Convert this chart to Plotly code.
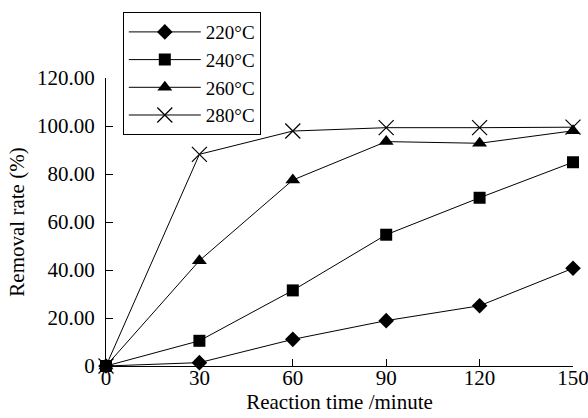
import plotly.graph_objects as go

times = [0, 30, 60, 90, 120, 150]
series_names = ["220°C", "240°C", "260°C", "280°C"]
rate_220 = [0, 1.4, 11.1, 18.9, 25.1, 40.7]
rate_240 = [0, 10.5, 31.5, 54.7, 70.1, 84.9]
rate_260 = [0, 43.9, 77.5, 93.5, 92.8, 98.0]
rate_280 = [0, 88.2, 97.9, 99.3, 99.3, 99.5]
y_tick_vals = [0, 20, 40, 60, 80, 100, 120]
y_tick_text = ["0", "20.00", "40.00", "60.00", "80.00", "100.00", "120.00"]
x_tick_vals = [0, 30, 60, 90, 120, 150]

symbols = ["diamond", "square", "triangle-up", "x-thin"]
sizes = [12, 12, 13, 15]
all_rates = [rate_220, rate_240, rate_260, rate_280]

fig = go.Figure()
for name, vals, sym, sz in zip(series_names, all_rates, symbols, sizes):
    marker = dict(symbol=sym, size=sz, color="black")
    if sym == "x-thin":
        marker["line"] = dict(color="black", width=1.2)
    fig.add_trace(go.Scatter(x=times, y=vals, name=name, mode="lines+markers",
                             line=dict(color="black", width=1), marker=marker,
                             cliponaxis=False))

font_family = "Liberation Serif, Times New Roman, serif"
fig.update_layout(
    width=588, height=418,
    margin=dict(l=106, r=15, t=78, b=52, autoexpand=False),
    paper_bgcolor="white", plot_bgcolor="white",
    font=dict(family=font_family, size=21, color="black"),
    showlegend=True,
    legend=dict(x=0.036, y=1.229, xanchor="left", yanchor="top",
                bordercolor="black", borderwidth=1, bgcolor="white",
                font=dict(size=19), itemwidth=72, tracegroupgap=0),
    xaxis=dict(range=[0, 150], tickvals=x_tick_vals, ticks="inside", ticklen=7,
               showline=True, linecolor="black", linewidth=1, showgrid=False,
               zeroline=False, tickcolor="black", ticklabelstandoff=-7,
               ticklabeloverflow="allow", automargin=False,
               title=dict(text="Reaction time /minute", standoff=0, font=dict(size=21))),
    yaxis=dict(range=[0, 120], tickvals=y_tick_vals, ticktext=y_tick_text,
               ticks="inside", ticklen=7, showline=True, linecolor="black",
               linewidth=1, showgrid=False, zeroline=False, tickcolor="black",
               ticklabelstandoff=6, ticklabeloverflow="allow", automargin=False,
               title=dict(text="Removal rate (%)", standoff=6, font=dict(size=21))),
)
fig.write_html("out.html", config={"displayModeBar": False},
               post_script="document.body.style.margin='0';document.body.style.padding='0';")
